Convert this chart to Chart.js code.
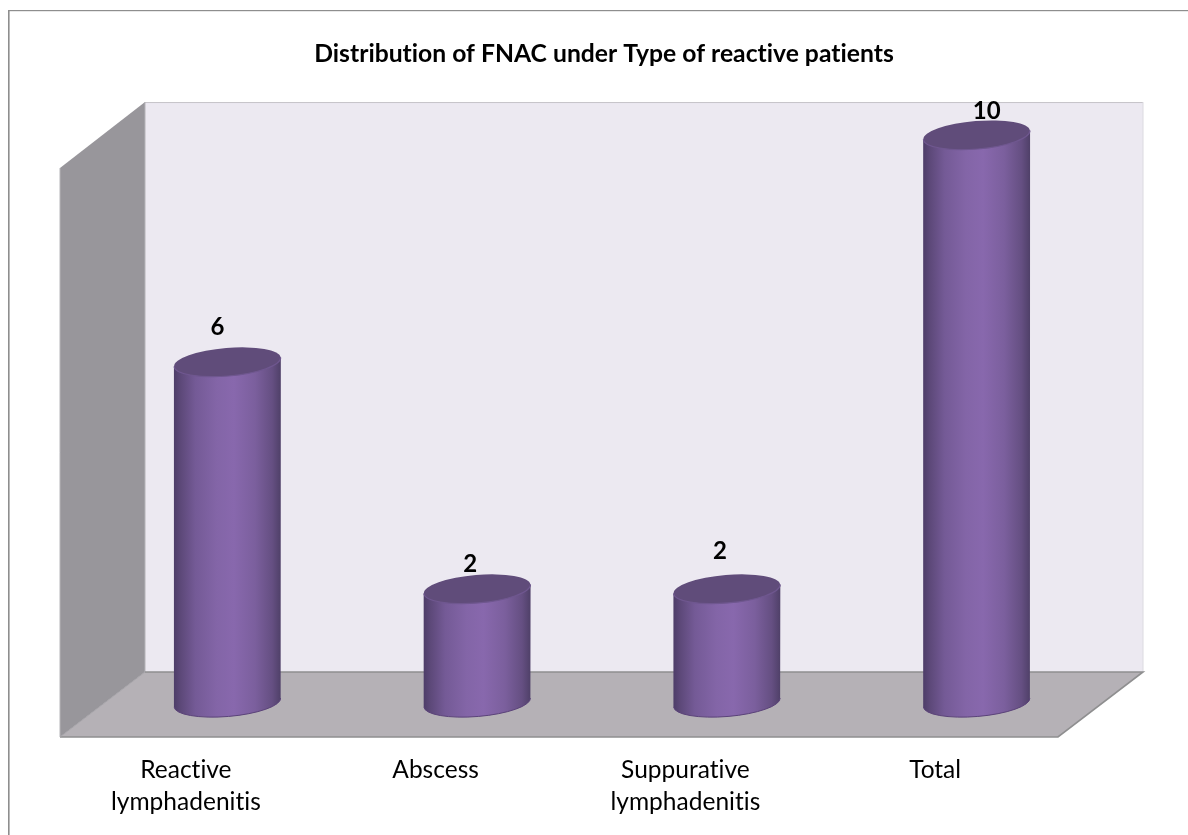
<!DOCTYPE html>
<html><head><meta charset="utf-8">
<style>html,body{margin:0;padding:0;background:#fff;overflow:hidden}#w{position:absolute;left:0;top:0;width:1188px;height:835px}</style>
<script src="https://cdn.jsdelivr.net/npm/chart.js@4"></script>
</head><body><div id="w"><canvas id="c" width="1188" height="835"></canvas></div>
<script>
const categories = ['Reactive lymphadenitis', 'Abscess', 'Suppurative lymphadenitis', 'Total'];
const values = [6, 2, 2, 10];
const chartTitle = 'Distribution of FNAC under Type of reactive patients';
const seriesName = 'Patients';
const FONT = 'Lato, "Open Sans", sans-serif';
// label placement relative to the top of each bar (dx, dy in px)
const labelNudge = [[-10, -35], [-7, -25], [-7, -38], [10, -24]];

const TILT = -4.8 * Math.PI / 180, RY = 14;
const scene = {
  id: 'scene',
  beforeDraw(chart) {
    const {ctx, chartArea: a} = chart;
    ctx.letterSpacing = '0.01px'; // keeps "ti" as separate letters
    // 3-D box derived from the plot area
    const fl = a.left - 42.5, fr = a.right - 43.5, fy = a.bottom + 34.5;
    const bl = a.left + 42.5, br = a.right + 41.5, by = a.bottom - 30.5, ty = a.top - 33, tf = a.top + 33;
    ctx.save();
    ctx.fillStyle = '#fff'; ctx.fillRect(0, 0, chart.width, chart.height);
    // outer frame
    ctx.fillStyle = '#8e8e8e';
    ctx.fillRect(8, 10, 1.6, chart.height - 10);
    ctx.fillRect(8, 10, chart.width - 8, 1.2);
    // back wall
    ctx.fillStyle = '#ece9f1'; ctx.fillRect(bl, ty, br - bl, by - ty);
    ctx.strokeStyle = '#c6c4c9'; ctx.lineWidth = 1;
    ctx.beginPath(); ctx.moveTo(bl, ty + .5); ctx.lineTo(br, ty + .5); ctx.stroke();
    ctx.strokeStyle = '#dcdae0';
    ctx.beginPath(); ctx.moveTo(br, ty); ctx.lineTo(br, by); ctx.stroke();
    // left wall
    ctx.fillStyle = '#98969b';
    ctx.beginPath(); ctx.moveTo(fl, tf); ctx.lineTo(bl, ty); ctx.lineTo(bl, by); ctx.lineTo(fl, fy); ctx.closePath(); ctx.fill();
    ctx.strokeStyle = '#b5b4b8';
    ctx.beginPath(); ctx.moveTo(fl, tf); ctx.lineTo(fl, fy); ctx.moveTo(bl, ty); ctx.lineTo(bl, by); ctx.stroke();
    // floor
    ctx.fillStyle = '#b5b1b6';
    ctx.beginPath(); ctx.moveTo(fl, fy); ctx.lineTo(bl, by); ctx.lineTo(br, by); ctx.lineTo(fr, fy); ctx.closePath(); ctx.fill();
    ctx.strokeStyle = '#8f8f90'; ctx.lineWidth = 1.6;
    ctx.beginPath(); ctx.moveTo(bl, by); ctx.lineTo(br, by); ctx.lineTo(fr, fy); ctx.lineTo(fl, fy); ctx.stroke();
    ctx.strokeStyle = '#a5a3a8'; ctx.lineWidth = 1;
    ctx.beginPath(); ctx.moveTo(fl, fy); ctx.lineTo(bl, by); ctx.stroke();
    ctx.restore();
  },
  beforeDatasetDraw(chart, args) {
    const {ctx} = chart;
    const meta = args.meta;
    meta.data.forEach((el, i) => {
      const w = el.width, cx = el.x, l = cx - w / 2, r = cx + w / 2;
      const a = w / 2, dy = a * Math.sin(-TILT), top = el.y, base = el.base;
      const g = ctx.createLinearGradient(l, 0, r, 0);
      g.addColorStop(0, '#4d3d68'); g.addColorStop(.06, '#5c4878'); g.addColorStop(.2, '#745a96');
      g.addColorStop(.4, '#8365a7'); g.addColorStop(.56, '#8868ad'); g.addColorStop(.76, '#7b5f9d');
      g.addColorStop(.92, '#654f82'); g.addColorStop(1, '#4f4068');
      ctx.save();
      ctx.beginPath();
      ctx.moveTo(l, top + dy);
      ctx.lineTo(l, base + dy);
      ctx.ellipse(cx, base, a, RY, TILT, Math.PI, 0, true);
      ctx.lineTo(r, top - dy);
      ctx.closePath();
      ctx.fillStyle = g; ctx.fill();
      // rim of the base
      ctx.beginPath(); ctx.ellipse(cx, base, a, RY, TILT, Math.PI, 0, true);
      ctx.strokeStyle = '#5b4379'; ctx.lineWidth = 1; ctx.stroke();
      // top cap
      ctx.beginPath(); ctx.ellipse(cx, top, a, RY, TILT, 0, Math.PI * 2);
      ctx.fillStyle = '#604c7a'; ctx.fill();
      ctx.beginPath(); ctx.ellipse(cx, top, a, RY, TILT, Math.PI, 0, true);
      ctx.strokeStyle = '#6f578f'; ctx.lineWidth = 1.2; ctx.stroke();
      // value label
      ctx.fillStyle = '#000'; ctx.font = 'bold 24px ' + FONT;
      ctx.textAlign = 'center'; ctx.textBaseline = 'middle';
      ctx.fillText(String(values[i]), cx + labelNudge[i][0], top + labelNudge[i][1]);
      ctx.restore();
    });
    return false;
  }
};

new Chart(document.getElementById('c'), {
  type: 'bar',
  data: {
    labels: categories.map(s => s.split(' ')),
    datasets: [{label: seriesName, data: values, backgroundColor: '#8064a2', categoryPercentage: 1, barPercentage: 0.428, yAxisID: 'y'}]
  },
  plugins: [scene],
  options: {
    responsive: false, animation: false, devicePixelRatio: 1,
    layout: {padding: {left: 20, right: 0, top: 39.5, bottom: 0}},
    plugins: {
      legend: {display: false}, tooltip: {enabled: false},
      title: {display: true, text: chartTitle, color: '#000', font: {family: FONT, size: 24.7, weight: 'bold', lineHeight: 1.2}, padding: {top: 0, bottom: 65.9}}
    },
    scales: {
      x: {
        grid: {display: false, drawTicks: false}, border: {display: false},
        ticks: {color: '#000', font: {family: FONT, size: 24.5, lineHeight: 1.306}, padding: 51.5, labelOffset: -41.5, maxRotation: 0, autoSkip: false},
        afterFit(s) { s.height = 132.5; }
      },
      y: {
        position: 'left', min: 0, max: 10,
        grid: {display: false, drawTicks: false}, border: {display: false}, ticks: {display: false},
        afterFit(s) { s.width = 82.5; }
      },
      y2: {
        display: true, position: 'right', min: 0, max: 10,
        grid: {display: false, drawTicks: false}, border: {display: false}, ticks: {display: false},
        afterFit(s) { s.width = 86.5; }
      }
    }
  }
});
</script></body></html>
